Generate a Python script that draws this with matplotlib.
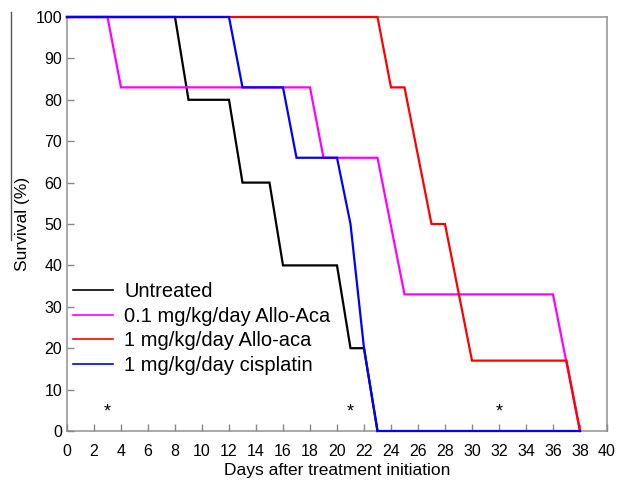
import matplotlib
matplotlib.use("Agg")
import matplotlib.pyplot as plt
from matplotlib.lines import Line2D

plt.rcParams['font.family'] = ['Liberation Sans', 'DejaVu Sans']

untreated_x = [0, 8, 9, 12, 13, 15, 16, 20, 21, 22, 23]
untreated_y = [100, 100, 80, 80, 60, 60, 40, 40, 20, 20, 0]

allo01_x = [0, 3, 4, 18, 19, 23, 25, 36, 38]
allo01_y = [100, 100, 83, 83, 66, 66, 33, 33, 0]

allo1_x = [0, 23, 24, 25, 27, 28, 30, 37, 38]
allo1_y = [100, 100, 83, 83, 50, 50, 17, 17, 0]

cis_x = [0, 12, 13, 16, 17, 20, 21, 22, 23, 38]
cis_y = [100, 100, 83, 83, 66, 66, 50, 20, 0, 0]

star_x = [3, 21, 32]
star_y = [4.5, 4.5, 4.5]

labels = ["Untreated", "0.1 mg/kg/day Allo-Aca", "1 mg/kg/day Allo-aca", "1 mg/kg/day cisplatin"]
colors = ["black", "#ff00ff", "#ff0000", "#0000ff"]

fig = plt.figure(figsize=(6.19, 4.83), dpi=100)
ax = fig.add_axes([67/619, 1-431/483, (607-67)/619, (431-17)/483])

series = [(untreated_x, untreated_y), (allo01_x, allo01_y), (allo1_x, allo1_y), (cis_x, cis_y)]
for (x, y), c in zip(series, colors):
    ax.plot(x, y, color=c, lw=1.6, solid_joinstyle='miter', clip_on=False, zorder=3)

for sx, sy in zip(star_x, star_y):
    ax.text(sx, sy, "*", ha='center', va='center', fontsize=13, color='black')

ax.set_xlim(0, 40)
ax.set_ylim(0, 100)
ax.set_xticks(range(0, 41, 2))
ax.set_yticks(range(0, 101, 10))
ax.tick_params(direction='in', length=5, color='#888888', labelsize=11.5, width=1)
ax.tick_params(axis='x', pad=9)
for s in ax.spines.values():
    s.set_color('#999999')
    s.set_linewidth(1.2)
    s.set_zorder(1)

ax.set_xlabel("Days after treatment initiation", fontsize=12.5, labelpad=3)
ax.set_ylabel("Survival (%)", fontsize=12.5, labelpad=4)

handles = [Line2D([0], [0], color=c, lw=1.2) for c in colors]
leg = ax.legend(handles, labels, loc='upper left', bbox_to_anchor=(0.0, 0.374),
                frameon=False, fontsize=14.5, handlelength=2.0, handletextpad=0.55,
                labelspacing=0.28, borderaxespad=0.0, borderpad=0.3)

fig.add_artist(Line2D([11/619, 11/619], [1-12/483, 1-240/483], color='#555555', lw=1.0))

fig.savefig("out.png", dpi=100)
